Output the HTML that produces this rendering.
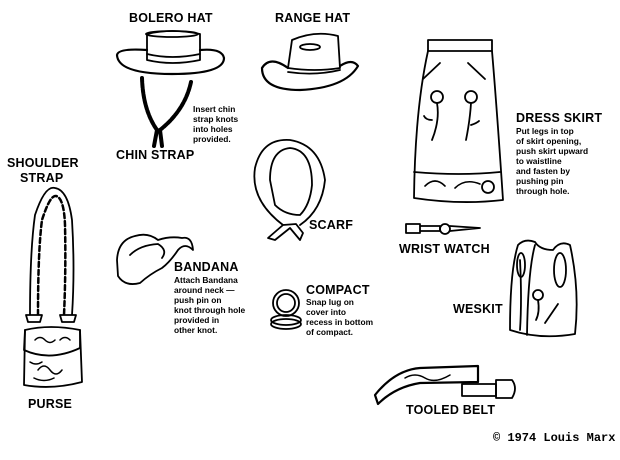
<!DOCTYPE html>
<html><head><style>
html,body{margin:0;padding:0;background:#fff;}
#c{position:relative;width:620px;height:460px;overflow:hidden;font-family:"Liberation Sans",Arial,sans-serif;color:#000;}
.t{position:absolute;font-weight:bold;white-space:nowrap;}
.h{font-size:12.5px;letter-spacing:0.2px;}
.s{font-size:8.4px;line-height:10px;}
svg{position:absolute;left:0;top:0;}
</style></head><body><div id="c">
<svg width="620" height="460" viewBox="0 0 620 460" fill="none" stroke="#000" stroke-width="1.8" stroke-linejoin="round" stroke-linecap="round">
<!-- Bolero hat -->
<path d="M147 34 Q172 28 200 34 L200 60 Q172 66 147 60 Z" fill="#fff"/>
<ellipse cx="172" cy="34" rx="26" ry="3"/>
<path d="M117 55 Q118 74 172 74 Q224 74 224 58 Q222 48 200 50 M147 50 Q118 48 117 55" stroke-width="2.2"/>
<path d="M147 54 Q172 60 200 54"/>
<!-- chin strap -->
<path d="M142 78 Q143 110 157 130 M191 82 Q185 110 160 130" stroke-width="4" stroke-dasharray="4 1.5"/>
<path d="M157 130 L154 146 M160 130 L162 146" stroke-width="4"/>
<!-- Range hat -->
<path d="M292 40 Q315 30 338 36 L340 68 Q315 72 288 68 Z" fill="#fff"/>
<ellipse cx="310" cy="47" rx="10" ry="3"/>
<path d="M288 68 Q270 55 262 68 Q262 90 300 90 Q345 88 358 66 Q352 58 340 66" stroke-width="2.2"/>
<path d="M288 72 Q315 76 340 70"/>
<!-- Scarf -->
<path d="M283 225 Q250 200 255 168 Q262 138 290 140 Q320 145 325 180 Q322 210 300 225"/>
<path d="M270 180 Q270 150 290 148 Q312 150 312 185 Q310 205 300 215 Q285 215 275 205 Z"/>
<path d="M283 225 L268 238 L275 240 L290 228 L300 240 L303 233 L296 224 Z" fill="#fff"/>
<!-- Bandana -->
<path d="M117 260 Q118 240 135 236 Q148 232 158 240 Q170 236 182 238 Q192 236 193 250 Q185 242 178 250 Q170 262 162 268 Q150 274 140 283 Q125 287 118 276 Z"/>
<path d="M130 255 Q140 245 158 244 Q168 250 162 258"/>
<!-- Compact -->
<ellipse cx="286" cy="303" rx="13" ry="13"/>
<ellipse cx="286" cy="303" rx="9" ry="9"/>
<ellipse cx="286" cy="320" rx="15" ry="5"/>
<ellipse cx="286" cy="324" rx="15" ry="5"/>
<!-- shoulder strap -->
<path d="M30 315 Q30 250 35 215 Q45 185 55 188 Q68 190 72 220 Q75 270 72 315"/>
<path d="M38 315 Q38 250 42 220 Q50 195 56 196 Q64 198 65 225 Q66 270 64 315" stroke-width="2.5" stroke-dasharray="5 3"/>
<path d="M26 315 L42 315 L40 322 L28 322 Z M60 315 L76 315 L74 322 L62 322 Z" fill="#fff"/>
<!-- purse -->
<path d="M25 330 Q50 324 80 330 L82 382 Q52 390 24 385 Z"/>
<path d="M25 330 L24 350 Q50 362 80 348 L80 330"/>
<path d="M35 340 q5 -5 10 0 q5 5 10 0 M60 340 q5 -5 10 0 M38 370 q6 -8 12 0 q6 8 12 0 M34 378 q10 5 20 0 M30 362 q6 4 12 0" stroke-width="1.5"/>
<!-- Skirt -->
<path d="M428 40 L492 40 L492 51 L428 51 Z"/>
<path d="M428 51 Q415 110 414 198 Q460 205 503 200 Q497 110 492 51"/>
<path d="M414 172 Q460 176 500 172 M414 198"/>
<path d="M425 186 q10 -10 20 0 M455 188 q10 -10 25 -4" stroke-width="1.6"/>
<circle cx="488" cy="187" r="6"/>
<path d="M423 79 L440 63 M468 63 L485 79"/>
<circle cx="437" cy="97" r="6"/><circle cx="471" cy="97" r="6"/>
<path d="M437 103 Q440 120 432 140 M471 103 Q470 120 466 140 M432 120 q-6 0 -8 -4 M471 125 q6 -2 8 -4"/>
<!-- Watch -->
<path d="M406 224 L420 224 L420 233 L406 233 Z M420 226 L440 226 L440 231 L420 231 Z M450 226 L480 228 L450 231"/>
<circle cx="445" cy="229" r="5"/>
<!-- Weskit -->
<path d="M518 245 Q510 270 510 330 Q540 340 575 334 Q580 290 570 245 Q560 240 553 250 Q540 250 535 242 Q525 238 518 245 Z"/>
<path d="M520 260 Q522 300 520 330 M535 245 Q528 270 527 335"/>
<ellipse cx="560" cy="270" rx="6" ry="17"/>
<ellipse cx="521" cy="265" rx="4" ry="12"/>
<circle cx="538" cy="295" r="5"/>
<path d="M538 300 Q540 312 536 320 M545 323 L558 304"/>
<!-- Belt -->
<path d="M375 395 Q395 370 420 368 L478 366 L478 382 L420 383 Q395 387 378 404 Z" stroke-width="2.2"/>
<path d="M405 378 q10 -6 20 0 q10 6 25 -3" stroke-width="1.5"/>
<path d="M462 384 L496 384 L496 396 L462 396 Z"/>
<path d="M496 380 L512 380 Q518 388 512 398 L496 398 Z"/>
</svg>
<div class="t h" style="left:129px;top:11px">BOLERO HAT</div>
<div class="t h" style="left:275px;top:11px">RANGE HAT</div>
<div class="t s" style="left:193px;top:104px">Insert chin<br>strap knots<br>into holes<br>provided.</div>
<div class="t h" style="left:116px;top:148px">CHIN STRAP</div>
<div class="t h" style="left:7px;top:156px">SHOULDER</div>
<div class="t h" style="left:20px;top:171px">STRAP</div>
<div class="t h" style="left:309px;top:218px">SCARF</div>
<div class="t h" style="left:174px;top:260px">BANDANA</div>
<div class="t s" style="left:174px;top:275px">Attach Bandana<br>around neck —<br>push pin on<br>knot through hole<br>provided in<br>other knot.</div>
<div class="t h" style="left:306px;top:283px">COMPACT</div>
<div class="t s" style="left:306px;top:297px">Snap lug on<br>cover into<br>recess in bottom<br>of compact.</div>
<div class="t h" style="left:516px;top:111px">DRESS SKIRT</div>
<div class="t s" style="left:516px;top:126px">Put legs in top<br>of skirt opening,<br>push skirt upward<br>to waistline<br>and fasten by<br>pushing pin<br>through hole.</div>
<div class="t h" style="left:399px;top:242px">WRIST WATCH</div>
<div class="t h" style="left:453px;top:302px">WESKIT</div>
<div class="t h" style="left:28px;top:397px">PURSE</div>
<div class="t h" style="left:406px;top:403px">TOOLED BELT</div>
<div class="t" style="left:493px;top:431px;font-family:'Liberation Mono',monospace;font-size:12px;">© 1974 Louis Marx</div>
</div></body></html>
